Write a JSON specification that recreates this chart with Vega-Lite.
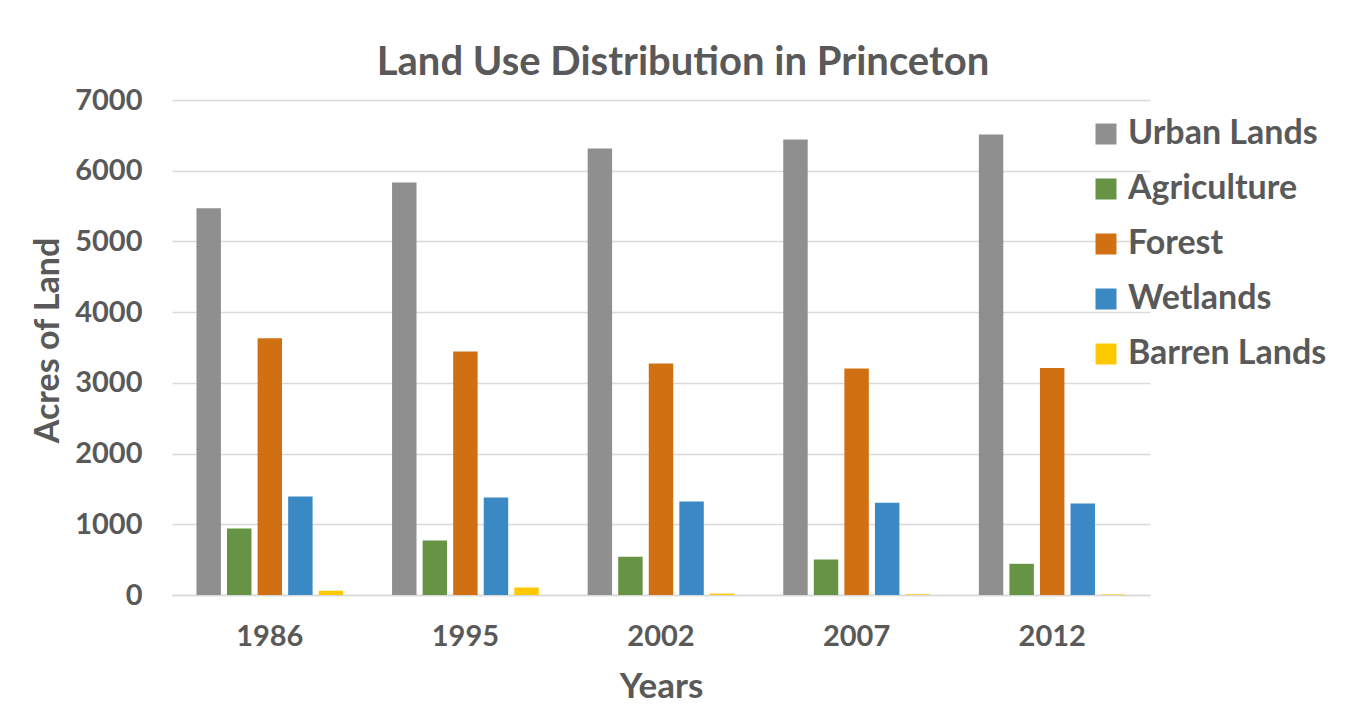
{
  "$schema": "https://vega.github.io/schema/vega-lite/v6.json",
  "width": 978,
  "height": 495,
  "autosize": {"type": "none"},
  "padding": {"left": 172, "top": 100, "right": 213, "bottom": 116},
  "background": "white",
  "title": {
    "text": "Land Use Distribution in Princeton",
    "font": "Lato",
    "fontSize": 40,
    "fontWeight": "bold",
    "color": "#595959",
    "anchor": "middle",
    "frame": "group",
    "dx": 22,
    "offset": 3
  },
  "data": {
    "values": [
      {"year": "1986", "type": "Urban Lands", "acres": 5470},
      {"year": "1986", "type": "Agriculture", "acres": 940},
      {"year": "1986", "type": "Forest", "acres": 3630},
      {"year": "1986", "type": "Wetlands", "acres": 1393},
      {"year": "1986", "type": "Barren Lands", "acres": 60},
      {"year": "1995", "type": "Urban Lands", "acres": 5834},
      {"year": "1995", "type": "Agriculture", "acres": 771},
      {"year": "1995", "type": "Forest", "acres": 3444},
      {"year": "1995", "type": "Wetlands", "acres": 1379},
      {"year": "1995", "type": "Barren Lands", "acres": 106},
      {"year": "2002", "type": "Urban Lands", "acres": 6315},
      {"year": "2002", "type": "Agriculture", "acres": 540},
      {"year": "2002", "type": "Forest", "acres": 3274},
      {"year": "2002", "type": "Wetlands", "acres": 1322},
      {"year": "2002", "type": "Barren Lands", "acres": 20},
      {"year": "2007", "type": "Urban Lands", "acres": 6443},
      {"year": "2007", "type": "Agriculture", "acres": 502},
      {"year": "2007", "type": "Forest", "acres": 3204},
      {"year": "2007", "type": "Wetlands", "acres": 1304},
      {"year": "2007", "type": "Barren Lands", "acres": 10},
      {"year": "2012", "type": "Urban Lands", "acres": 6513},
      {"year": "2012", "type": "Agriculture", "acres": 441},
      {"year": "2012", "type": "Forest", "acres": 3210},
      {"year": "2012", "type": "Wetlands", "acres": 1294},
      {"year": "2012", "type": "Barren Lands", "acres": 8}
    ]
  },
  "mark": {"type": "bar"},
  "encoding": {
    "x": {
      "field": "year",
      "type": "nominal",
      "scale": {"paddingInner": 0.25, "paddingOuter": 0.125},
      "axis": {
        "title": "Years",
        "labelAngle": 0,
        "labelFont": "Lato",
        "labelFontSize": 29,
        "labelFontWeight": "bold",
        "labelColor": "#595959",
        "labelPadding": 27,
        "titleFont": "Lato",
        "titleFontSize": 35,
        "titleFontWeight": "bold",
        "titleColor": "#595959",
        "titlePadding": 18,
        "ticks": false,
        "domainColor": "#d9d9d9",
        "domainWidth": 1.5,
        "grid": false
      }
    },
    "xOffset": {
      "field": "type",
      "type": "nominal",
      "sort": ["Urban Lands", "Agriculture", "Forest", "Wetlands", "Barren Lands"],
      "scale": {"paddingInner": 0.2}
    },
    "y": {
      "field": "acres",
      "type": "quantitative",
      "scale": {"domain": [0, 7000]},
      "axis": {
        "title": "Acres of Land",
        "values": [0, 1000, 2000, 3000, 4000, 5000, 6000, 7000],
        "format": "d",
        "labelFont": "Lato",
        "labelFontSize": 29,
        "labelFontWeight": "bold",
        "labelColor": "#595959",
        "labelPadding": 30,
        "titleFont": "Lato",
        "titleFontSize": 34,
        "titleFontWeight": "bold",
        "titleColor": "#595959",
        "titlePadding": 9,
        "titleY": 240,
        "ticks": false,
        "domain": false,
        "gridColor": "#d9d9d9",
        "gridWidth": 1.5
      }
    },
    "color": {
      "field": "type",
      "type": "nominal",
      "sort": ["Urban Lands", "Agriculture", "Forest", "Wetlands", "Barren Lands"],
      "scale": {
        "domain": ["Urban Lands", "Agriculture", "Forest", "Wetlands", "Barren Lands"],
        "range": ["#8f8f8f", "#679344", "#d07013", "#3a89c5", "#ffc901"]
      },
      "legend": {
        "title": null,
        "orient": "none",
        "legendX": 917,
        "legendY": 17,
        "symbolType": "square",
        "symbolSize": 441,
        "symbolStrokeWidth": 0,
        "labelFont": "Lato",
        "labelFontSize": 34,
        "labelFontWeight": "bold",
        "labelColor": "#595959",
        "labelOffset": 5,
        "rowPadding": 21,
        "labelLimit": 400
      }
    }
  },
  "config": {
    "view": {"stroke": null}
  }
}
